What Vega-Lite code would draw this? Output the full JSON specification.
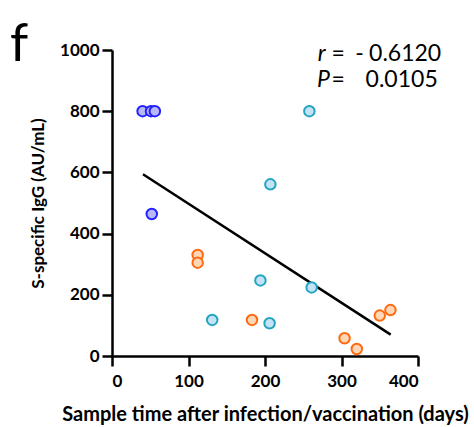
{
  "$schema": "https://vega.github.io/schema/vega-lite/v6.json",
  "autosize": "none",
  "width": 306,
  "height": 306,
  "padding": {"left": 112, "top": 50, "right": 56, "bottom": 71},
  "title": {"text": "f", "anchor": "start", "frame": "group", "fontSize": 52, "font": "Lato", "fontWeight": "normal", "color": "black", "dx": -102, "dy": 72, "offset": 0, "baseline": "alphabetic"},
  "config": {
    "view": {"stroke": null},
    "font": "Lato",
    "axis": {
      "domainColor": "black", "domainWidth": 2.5, "tickColor": "black", "tickWidth": 2.5, "tickSize": 10,
      "grid": false, "labelFont": "Lato", "labelFontSize": 17, "labelFontWeight": "bold", "labelColor": "black",
      "titleFont": "Lato", "titleFontWeight": "bold", "titleColor": "black", "labelPadding": 3
    }
  },
  "datasets": {
    "points": [
      {"time": 40, "igg": 800, "group": "A"},
      {"time": 51, "igg": 800, "group": "A"},
      {"time": 56, "igg": 800, "group": "A"},
      {"time": 52, "igg": 464, "group": "A"},
      {"time": 258, "igg": 800, "group": "B"},
      {"time": 207, "igg": 561, "group": "B"},
      {"time": 194, "igg": 247, "group": "B"},
      {"time": 261, "igg": 224, "group": "B"},
      {"time": 131, "igg": 118, "group": "B"},
      {"time": 206, "igg": 107, "group": "B"},
      {"time": 112, "igg": 330, "group": "C"},
      {"time": 112, "igg": 305, "group": "C"},
      {"time": 183, "igg": 118, "group": "C"},
      {"time": 304, "igg": 58, "group": "C"},
      {"time": 320, "igg": 23, "group": "C"},
      {"time": 350, "igg": 132, "group": "C"},
      {"time": 364, "igg": 150, "group": "C"}
    ],
    "fit": [
      {"time": 40.5, "igg": 594},
      {"time": 364.3, "igg": 70}
    ],
    "notes": [
      {"time": 269, "igg": 964, "text": "r", "kind": "sym"},
      {"time": 287, "igg": 964, "text": "=", "kind": "val"},
      {"time": 318, "igg": 964, "text": "-", "kind": "val"},
      {"time": 336, "igg": 964, "text": "0.6120", "kind": "val"},
      {"time": 268, "igg": 879, "text": "P", "kind": "sym"},
      {"time": 287, "igg": 879, "text": "=", "kind": "val"},
      {"time": 331.5, "igg": 879, "text": "0.0105", "kind": "val"}
    ]
  },
  "layer": [
    {
      "data": {"name": "fit"},
      "mark": {"type": "line", "color": "black", "strokeWidth": 2.5},
      "encoding": {
        "x": {"field": "time", "type": "quantitative", "scale": {"domain": [0, 400], "nice": false}, "axis": {"values": [0, 100, 200, 300, 400], "title": "Sample time after infection/vaccination (days)", "titleFontSize": 20, "labelPadding": 7, "titlePadding": 15}},
        "y": {"field": "igg", "type": "quantitative", "scale": {"domain": [0, 1000], "nice": false}, "axis": {"values": [0, 200, 400, 600, 800, 1000], "format": "d", "title": "S-specific IgG (AU/mL)", "titleFontSize": 17, "titlePadding": 12}}
      }
    },
    {
      "data": {"name": "points"},
      "mark": {"type": "point", "filled": false, "size": 110, "strokeWidth": 2, "opacity": 1},
      "encoding": {
        "x": {"field": "time", "type": "quantitative"},
        "y": {"field": "igg", "type": "quantitative"},
        "stroke": {"field": "group", "type": "nominal", "scale": {"domain": ["A", "B", "C"], "range": ["#2222ff", "#22a6c0", "#ff6a10"]}, "legend": null},
        "fill": {"field": "group", "type": "nominal", "scale": {"domain": ["A", "B", "C"], "range": ["#b8b8f6", "#c6e2f6", "#ffd6b6"]}, "legend": null}
      }
    },
    {
      "data": {"name": "notes"},
      "transform": [{"filter": "datum.kind == 'sym'"}],
      "mark": {"type": "text", "align": "left", "baseline": "alphabetic", "fontSize": 23, "fontStyle": "italic", "font": "Lato", "color": "black"},
      "encoding": {
        "x": {"field": "time", "type": "quantitative"},
        "y": {"field": "igg", "type": "quantitative"},
        "text": {"field": "text"}
      }
    },
    {
      "data": {"name": "notes"},
      "transform": [{"filter": "datum.kind == 'val'"}],
      "mark": {"type": "text", "align": "left", "baseline": "alphabetic", "fontSize": 23, "font": "Lato", "color": "black"},
      "encoding": {
        "x": {"field": "time", "type": "quantitative"},
        "y": {"field": "igg", "type": "quantitative"},
        "text": {"field": "text"}
      }
    }
  ]
}
